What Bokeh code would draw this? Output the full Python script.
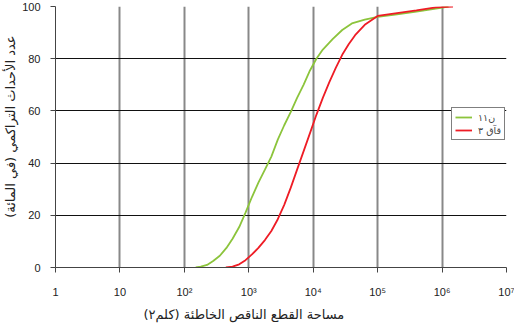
from bokeh.plotting import figure
from bokeh.models import FixedTicker, Legend, LegendItem
from bokeh.embed import file_html
from bokeh.resources import INLINE

# --- data ---
green_area = [150, 180, 225, 280, 355, 450, 560, 710, 890, 1120, 1410, 1780,
              2240, 2820, 3550, 4470, 5620, 7080, 8910, 11200, 14100, 20000,
              28200, 39800, 63100, 100000, 200000, 400000, 800000, 1260000]
green_pct = [0, 0.3, 1, 2.5, 4.5, 7.5, 11, 15.5, 21, 27, 32.5, 37.5,
             42.5, 49, 54.5, 59.5, 65, 70, 75.5, 80, 83.5, 87.5,
             91, 93.5, 95, 96, 97, 98, 99.2, 100]

red_area = [440, 560, 710, 890, 1120, 1410, 1780, 2240, 2820, 3550, 4470,
            5620, 7080, 8910, 11200, 14100, 17800, 22400, 28200, 35500, 44700,
            63100, 100000, 200000, 400000, 800000, 1480000]
red_pct = [0, 0.3, 1.2, 2.8, 5, 7.5, 10.5, 14, 18.5, 24, 30.5,
           37.5, 44.5, 51.5, 58.5, 65, 71, 76.5, 81.5, 85.5, 89,
           93, 96.4, 97.5, 98.5, 99.7, 100]

x_ticks = [1, 10, 100, 1000, 10000, 100000, 1000000, 10000000]
x_tick_labels = ["1", "10", "10²", "10³", "10⁴", "10⁵", "10⁶", "10⁷"]
y_ticks = [0, 20, 40, 60, 80, 100]

green_name = "ن١١"
red_name = "قآق ٣"
x_title = "\u202bمساحة القطع الناقص الخاطئة (كلم٢)\u202c"
y_title = "\u202bعدد الأحداث التراكمي (في المائة)\u202c"

NB = "\u00a0"

p = figure(x_axis_type="log", x_range=(1, 1e7), y_range=(0, 100),
           frame_width=451, frame_height=261,
           min_border_left=55, min_border_right=8, min_border_top=6,
           min_border_bottom=51, output_backend="svg", toolbar_location=None,
           background_fill_color="white", border_fill_color="white")
p.outline_line_color = None

p.xaxis.ticker = FixedTicker(ticks=x_ticks)
p.yaxis.ticker = FixedTicker(ticks=y_ticks)
p.xaxis.major_label_overrides = {t: l for t, l in zip(x_ticks, x_tick_labels)}

for ax in (p.xaxis, p.yaxis):
    ax.axis_line_color = "#444444"
    ax.axis_line_width = 1
    ax.major_tick_line_color = "#444444"
    ax.major_tick_in = 0
    ax.major_tick_out = 5
    ax.minor_tick_line_color = None
    ax.major_label_text_font = "Liberation Sans"
    ax.major_label_text_font_size = "11px"
    ax.major_label_text_color = "#222222"
    ax.axis_label_text_font = "DejaVu Sans"
    ax.axis_label_text_font_size = "13px"
    ax.axis_label_text_font_style = "normal"
    ax.axis_label_text_color = "#222222"
p.xaxis.major_label_standoff = 13
p.yaxis.major_label_standoff = 10

# axis titles (padding with no-break spaces to offset them like the reference)
p.xaxis.axis_label = x_title + NB * 18
p.xaxis.axis_label_standoff = 6
p.yaxis.axis_label = NB * 5 + y_title
p.yaxis.axis_label_standoff = 1

p.xgrid.grid_line_color = "#888888"
p.xgrid.grid_line_width = 2
p.ygrid.grid_line_color = "#111111"
p.ygrid.grid_line_width = 1

g = p.line(green_area, green_pct, line_color="#8cc43c", line_width=1.8)
r = p.line(red_area, red_pct, line_color="#ee1c25", line_width=1.8)

legend = Legend(items=[LegendItem(label=green_name, renderers=[g]),
                       LegendItem(label=red_name, renderers=[r])],
                location=(396, 127), orientation="vertical",
                border_line_color="black", border_line_width=1,
                background_fill_color="white", background_fill_alpha=1,
                label_text_font="DejaVu Sans", label_text_font_size="9.5px",
                label_height=12, glyph_height=12, glyph_width=17,
                label_standoff=6, spacing=1, padding=3, margin=0)
p.add_layout(legend, "center")

open("out.html", "w").write(file_html(p, INLINE))
